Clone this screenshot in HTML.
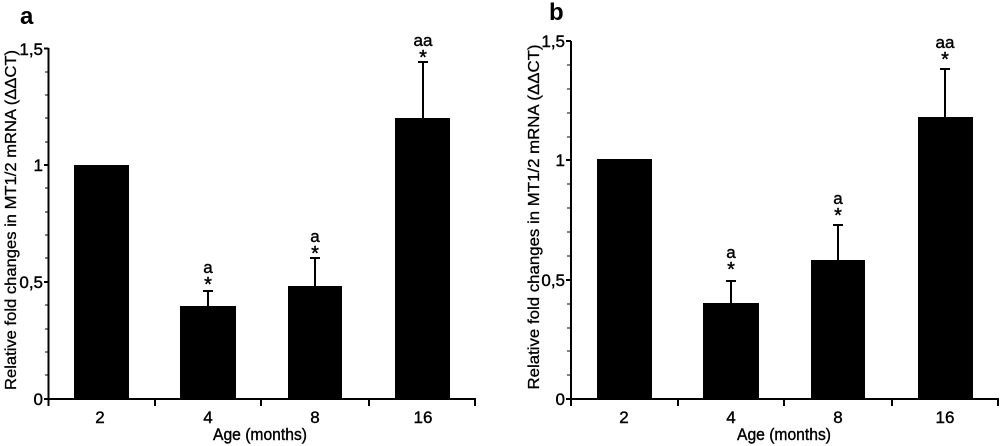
<!DOCTYPE html>
<html><head><style>body{margin:0;background:#fff}svg{display:block}</style></head><body>
<svg width="1000" height="446" viewBox="0 0 1000 446" xmlns="http://www.w3.org/2000/svg" font-family="Liberation Sans, sans-serif">
<g stroke="#000" stroke-width="2" fill="none">
 <line x1="48.5" y1="48" x2="48.5" y2="400"/>
 <line x1="48" y1="399" x2="476" y2="399"/>
 <path d="M44 48.5H48.5M44 165H48.5M44 282H48.5M44 399H48.5"/>
 <path d="M48.5 399V406M155 399V406M261 399V406M369 399V406M475 399V406"/>
 <line x1="571" y1="41" x2="571" y2="400"/>
 <line x1="570" y1="399" x2="999" y2="399"/>
 <path d="M566 41H571M566 160H571M566 280H571M566 399H571"/>
 <path d="M571 399V406M678 399V406M784 399V406M892 399V406M998 399V406"/>
</g>
<g stroke="#000" stroke-width="1" fill="none">
 <path d="M45 72H48.5M45 95H48.5M45 118H48.5M45 142H48.5M45 188H48.5M45 212H48.5M45 235H48.5M45 258H48.5M45 305H48.5M45 329H48.5M45 352H48.5M45 375H48.5"/>
 <path d="M567 65H571M567 89H571M567 113H571M567 137H571M567 184H571M567 208H571M567 232H571M567 256H571M567 304H571M567 328H571M567 351H571M567 375H571"/>
</g>
<g fill="#000">
 <rect x="74" y="165" width="55" height="234"/>
 <rect x="180" y="306" width="56" height="93"/>
 <rect x="288" y="286" width="54" height="113"/>
 <rect x="395" y="118" width="55" height="281"/>
 <rect x="597" y="159" width="55" height="240"/>
 <rect x="703" y="303" width="56" height="96"/>
 <rect x="811" y="260" width="54" height="139"/>
 <rect x="918" y="117" width="55" height="282"/>
</g>
<g stroke="#000" stroke-width="2">
 <path d="M208 306V291M203 291H213"/>
 <path d="M315 286V258M310 258H320"/>
 <path d="M423 118V62M418 62H428"/>
 <path d="M731 303V281M726 281H736"/>
 <path d="M838 260V225M833 225H843"/>
 <path d="M945 117V69M940 69H950"/>
</g>
<g font-size="17" text-anchor="middle" fill="#000" stroke="#000" stroke-width="0.4">
 <text x="100" y="423">2</text><text x="208" y="423">4</text><text x="315" y="423">8</text><text x="423" y="423">16</text>
 <text x="260" y="440" textLength="94" lengthAdjust="spacingAndGlyphs">Age (months)</text>
 <text x="624" y="423">2</text><text x="731" y="423">4</text><text x="838" y="423">8</text><text x="945" y="423">16</text>
 <text x="784" y="440" textLength="94" lengthAdjust="spacingAndGlyphs">Age (months)</text>
</g>
<g font-size="17" text-anchor="end" fill="#000" stroke="#000" stroke-width="0.4">
 <text x="43" y="55">1,5</text><text x="43" y="171">1</text><text x="43" y="288">0,5</text><text x="43" y="405">0</text>
 <text x="565" y="47">1,5</text><text x="565" y="166">1</text><text x="565" y="286">0,5</text><text x="565" y="405">0</text>
</g>
<g font-size="17" text-anchor="middle" fill="#000" stroke="#000" stroke-width="0.4">
 <text x="208" y="273">a</text><text x="208" y="291" font-size="20">*</text>
 <text x="315" y="242">a</text><text x="315" y="260" font-size="20">*</text>
 <text x="423" y="46">aa</text><text x="423" y="64" font-size="20">*</text>
 <text x="731" y="258">a</text><text x="731" y="276" font-size="20">*</text>
 <text x="838" y="204">a</text><text x="838" y="222" font-size="20">*</text>
 <text x="945" y="48">aa</text><text x="945" y="66" font-size="20">*</text>
</g>
<g font-size="16" text-anchor="middle" fill="#000" stroke="#000" stroke-width="0.3">
 <text transform="translate(16,220) rotate(-90)" textLength="340" lengthAdjust="spacingAndGlyphs">Relative fold changes in MT1/2 mRNA (ΔΔCT)</text>
 <text transform="translate(539,217) rotate(-90)" textLength="345" lengthAdjust="spacingAndGlyphs">Relative fold changes in MT1/2 mRNA (ΔΔCT)</text>
</g>
<text x="20" y="24" font-size="24" font-weight="bold">a</text>
<text x="549" y="20" font-size="24" font-weight="bold">b</text>
</svg>
</body></html>
